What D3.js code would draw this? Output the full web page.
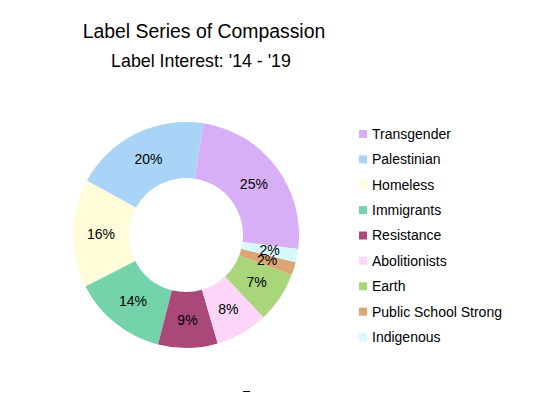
<!DOCTYPE html>
<html>
<head>
<meta charset="utf-8">
<script src="https://cdn.jsdelivr.net/npm/d3@7"></script>
<style>
  body { margin: 0; background: #fff; }
  text { font-family: "Liberation Sans", Arial, Helvetica, sans-serif; fill: #000; }
</style>
</head>
<body>
<div id="chart"></div>
<script>
// Chart data
const categories = ['Transgender', 'Palestinian', 'Homeless', 'Immigrants', 'Resistance',
  'Abolitionists', 'Earth', 'Public School Strong', 'Indigenous'];
const shares = [24.5, 19.5, 15.5, 13.5, 8.5, 7.5, 7.2, 1.9, 1.9];
const colors = ['#d8aef6', '#a9d4f8', '#fefcd9', '#75d3ab', '#ab487a',
  '#fdd5f9', '#a9d57b', '#dba673', '#d6fafc'];
const title = 'Label Series of Compassion';
const subtitle = "Label Interest: '14 - '19";

const width = 555, height = 393;
const cx = 186, cy = 235, outerR = 113, innerR = 57;

const svg = d3.select('#chart').append('svg')
  .attr('width', width)
  .attr('height', height);

// Titles
svg.append('text')
  .attr('x', 204).attr('y', 38)
  .attr('text-anchor', 'middle')
  .style('font-size', '19.4px')
  .text(title);
svg.append('text')
  .attr('x', 201).attr('y', 67)
  .attr('text-anchor', 'middle')
  .style('font-size', '17.8px')
  .text(subtitle);

const color = d3.scaleOrdinal().domain(categories).range(colors);

// Slices run counterclockwise from just past 3 o'clock
const start = 97.1 * Math.PI / 180;
const pie = d3.pie()
  .sort(null)
  .value(d => d.value)
  .startAngle(start)
  .endAngle(start - 2 * Math.PI);

const data = categories.map((c, i) => ({ name: c, value: shares[i] }));
const arcs = pie(data);

const arc = d3.arc().innerRadius(innerR).outerRadius(outerR);

const g = svg.append('g').attr('transform', `translate(${cx},${cy})`);

g.selectAll('path')
  .data(arcs)
  .join('path')
  .attr('d', arc)
  .attr('fill', d => color(d.data.name));

g.selectAll('text.pct')
  .data(arcs)
  .join('text')
  .attr('class', 'pct')
  .attr('transform', d => `translate(${arc.centroid(d)})`)
  .attr('text-anchor', 'middle')
  .attr('dy', '0.35em')
  .style('font-size', '14px')
  .text(d => Math.round(d.data.value) + '%');

// Legend
const legendY = d3.scalePoint().domain(categories).range([134, 337]);
const legend = svg.append('g');
const rows = legend.selectAll('g')
  .data(categories)
  .join('g')
  .attr('transform', d => `translate(359,${legendY(d)})`);
rows.append('rect')
  .attr('x', 0).attr('y', -4)
  .attr('width', 8).attr('height', 8)
  .attr('fill', d => color(d));
rows.append('text')
  .attr('x', 13)
  .attr('dy', '0.35em')
  .style('font-size', '14px')
  .text(d => d);

// little mark at the bottom
svg.append('line')
  .attr('x1', 243).attr('x2', 250)
  .attr('y1', 391.5).attr('y2', 391.5)
  .attr('stroke', '#000').attr('stroke-width', 1);
</script>
</body>
</html>
